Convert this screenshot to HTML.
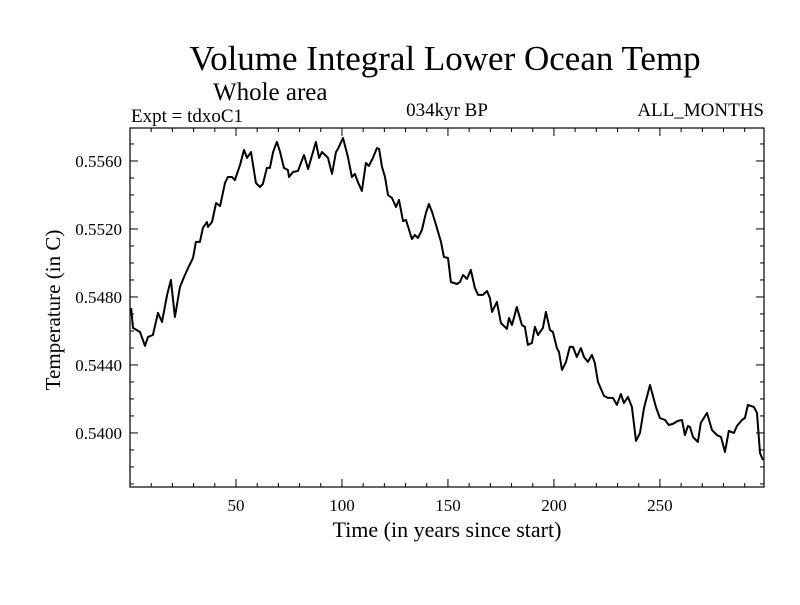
<!DOCTYPE html>
<html><head><meta charset="utf-8"><style>
body{margin:0;background:#fff}
svg text{font-family:"Liberation Serif",serif;fill:#000}
</style></head><body>
<svg id="c" width="800" height="600" xmlns="http://www.w3.org/2000/svg">
<text x="445" y="70" font-size="35" text-anchor="middle">Volume Integral Lower Ocean Temp</text>
<text x="213" y="100" font-size="25">Whole area</text>
<text x="131" y="122" font-size="19">Expt = tdxoC1</text>
<text x="447" y="116" font-size="19" text-anchor="middle">034kyr BP</text>
<text x="764" y="116" font-size="19" text-anchor="end">ALL_MONTHS</text>
<text x="447" y="537" font-size="22" text-anchor="middle">Time (in years since start)</text>
<text transform="translate(60,310) rotate(-90)" font-size="21" text-anchor="middle">Temperature (in C)</text>
<rect x="130" y="128" width="634" height="359" fill="none" stroke="#000" stroke-width="1.2"/>
<g id="ticks"></g>
<path id="line" fill="none" stroke="#000" stroke-width="2" stroke-linejoin="round"/>
</svg>
<script>
const years=[0.5,1.4,4.7,7.1,8.5,10.8,13.2,15.1,17.5,19.3,21.2,23.6,25.5,27.4,29.7,31.1,33,34.4,36.3,36.8,38.7,40.6,42.5,44.8,46.2,48.1,49.5,51.9,53.8,55.2,57.1,59.4,61.3,62.7,64.6,66,67.5,69.3,70.8,72.6,74.5,75,76.9,79.2,82.1,84,87.7,89.2,90.6,93.4,95.3,97.2,98.1,100.5,102.8,104.7,106.1,107.5,109.4,111.3,112.7,114.6,116.5,117.5,118.9,120.3,121.7,123.6,125.5,126.9,128.8,130.2,133,134.4,135.8,137.7,139.6,141,142.5,144.8,146.7,148.1,150,151.4,154.2,155.7,157.1,159,160.8,162.7,164.2,166.5,168.4,169.8,170.8,173.1,175,177.8,178.8,180.2,182.5,184.9,186.3,187.7,189.6,191,192.5,194.8,196.2,198.1,199.5,201.4,202.4,203.8,205.7,207.5,209,210.8,212.7,214.2,216,217.9,219.3,220.8,223.6,225.5,227.8,229.7,231.6,233,234.9,236.8,238.7,240.6,242.5,245.3,248.1,250,252.4,254.2,256.1,258.5,260.4,261.8,263.2,264.2,265.6,267.9,269.3,272.2,274.5,276.9,278.8,280.7,282.5,284.9,286.3,288.7,290.1,291.5,294.3,295.8,297.2,298.6];
const temps=[.54735,.54618,.54594,.54512,.54565,.54576,.54706,.54653,.54812,.5490,.54682,.54859,.54918,.54971,.55029,.55124,.55124,.55206,.55241,.55212,.55241,.55353,.55335,.55471,.55506,.55506,.55488,.55576,.55665,.55618,.55653,.55471,.55447,.55465,.55559,.55559,.55653,.55712,.55653,.55559,.55547,.55506,.55535,.55541,.55635,.55553,.55712,.55618,.55653,.55618,.55524,.55653,.55671,.55735,.55624,.55506,.55524,.55476,.55424,.55588,.55571,.55618,.55676,.55671,.55565,.55506,.5540,.55382,.55329,.55371,.55247,.55253,.55141,.55165,.55147,.55194,.55294,.55347,.5530,.55206,.55124,.55035,.55029,.54888,.54876,.54888,.54929,.54906,.54959,.54853,.54812,.54812,.54835,.54794,.54712,.54771,.54647,.54612,.54676,.54635,.54741,.54635,.54624,.54518,.54529,.54624,.54576,.54618,.54712,.54606,.54594,.5450,.54476,.54371,.54418,.54506,.54506,.54447,.5450,.54447,.54418,.54459,.54412,.5430,.54218,.54206,.54206,.54165,.54229,.54176,.54212,.54153,.53953,.5400,.54147,.54282,.54153,.54088,.54076,.54047,.54053,.54071,.54076,.53988,.54041,.54035,.53976,.53947,.54059,.54118,.54018,.53988,.53976,.53888,.54012,.5400,.54041,.54076,.54088,.54165,.54153,.54118,.53882,.53841];
const xTickLabels=[50,100,150,200,250];
const yTickLabels=["0.5400","0.5440","0.5480","0.5520","0.5560"];
const X0=130,X1=764,Y0=487,Y1=128,xMin=0,xMax=299.1,yMin=0.53682,yMax=0.55794;
const xs=v=>X0+(v-xMin)/(xMax-xMin)*(X1-X0);
const ys=v=>Y0-(v-yMin)/(yMax-yMin)*(Y0-Y1);
const NS="http://www.w3.org/2000/svg";
let d="";years.forEach((y,i)=>{d+=(i?"L":"M")+xs(y).toFixed(1)+","+ys(temps[i]).toFixed(1);});
document.getElementById("line").setAttribute("d",d);
const g=document.getElementById("ticks");
function ln(x1,y1,x2,y2){const l=document.createElementNS(NS,"line");l.setAttribute("x1",x1);l.setAttribute("y1",y1);l.setAttribute("x2",x2);l.setAttribute("y2",y2);l.setAttribute("stroke","#000");


g.appendChild(l);}
function tx(x,y,s,a){const t=document.createElementNS(NS,"text");t.setAttribute("x",x);t.setAttribute("y",y);t.setAttribute("font-size","17");t.setAttribute("text-anchor",a);t.textContent=s;


g.appendChild(t);}
for(let v=10;v<300;v+=10){const x=xs(v),L=v%50===0?8:4;ln(x,Y0,x,Y0-L);ln(x,Y1,x,Y1+L);}
for(let k=537;k<=557;k++){const v=k/1000;const y=ys(v);if(y<Y1||y>Y0)continue;const L=k%4===0?8:4;ln(X0,y,X0+L,y);ln(X1,y,X1-L,y);}
xTickLabels.forEach(v=>tx(xs(v),511,String(v),"middle"));
yTickLabels.forEach(s=>tx(122,ys(parseFloat(s))+6,s,"end"));
</script>
</body></html>
